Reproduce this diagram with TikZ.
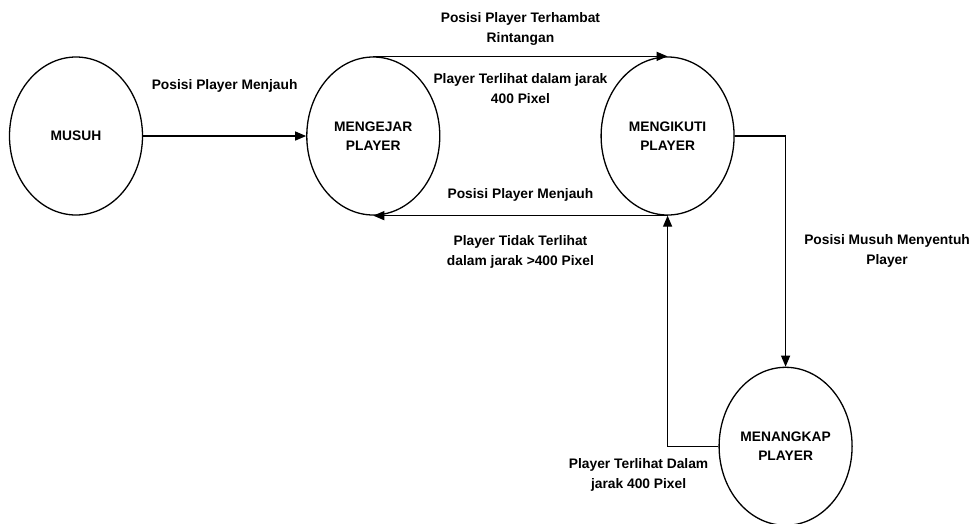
\documentclass[tikz,border=0pt]{standalone}
\usepackage{fontspec}
\setmainfont{Liberation Sans}
\usetikzlibrary{shapes.geometric, arrows.meta, positioning}

\begin{document}
\begin{tikzpicture}[x=1pt, y=1pt, node distance=160pt,
    state/.style={ellipse, draw=black, line width=1.3pt, minimum width=133pt, minimum height=158pt, inner sep=0pt, align=center, font=\fontsize{13.8}{19}\selectfont\bfseries},
    lbl/.style={align=center, inner sep=0pt, font=\fontsize{13.8}{20}\selectfont\bfseries},
    arrow/.style={-{Triangle[length=11pt, width=9pt]}, line width=1.3pt}]

  \useasboundingbox (0,0) rectangle (970,-523);

  \node [state] (musuh) at (76,-136) {MUSUH};
  \node [state, right=163pt of musuh] (mengejar) {MENGEJAR\\PLAYER};
  \node [state, right=160pt of mengejar] (mengikuti) {MENGIKUTI\\PLAYER};
  \node [state, below=151pt of mengikuti, xshift=118pt] (menangkap) {MENANGKAP\\PLAYER};

  \draw [arrow] (musuh) -- node[lbl, above=43pt] (l_menjauh) {Posisi Player Menjauh} (mengejar);
  \draw [arrow] (mengejar.north) -- node[lbl, above=10pt] (l_terhambat) {Posisi Player Terhambat\\Rintangan}
        node[lbl, below=16pt] (l_terlihat) {Player Terlihat dalam jarak\\400 Pixel} (mengikuti.north);
  \draw [arrow] (mengikuti.south) -- node[lbl, above=14pt] (l_menjauh2) {Posisi Player Menjauh}
        node[lbl, below=19pt] (l_tidak) {Player Tidak Terlihat\\dalam jarak >400 Pixel} (mengejar.south);
  \draw [arrow] (mengikuti.east) -| node[lbl, pos=0.75, right=18pt] (l_menyentuh) {Posisi Musuh Menyentuh\\Player} (menangkap.north);
  \draw [arrow] (menangkap.west) -| node[lbl, pos=0.5, below=12pt, xshift=-29pt] (l_dalam) {Player Terlihat Dalam\\jarak 400 Pixel} (mengikuti.south);
\end{tikzpicture}
\end{document}
